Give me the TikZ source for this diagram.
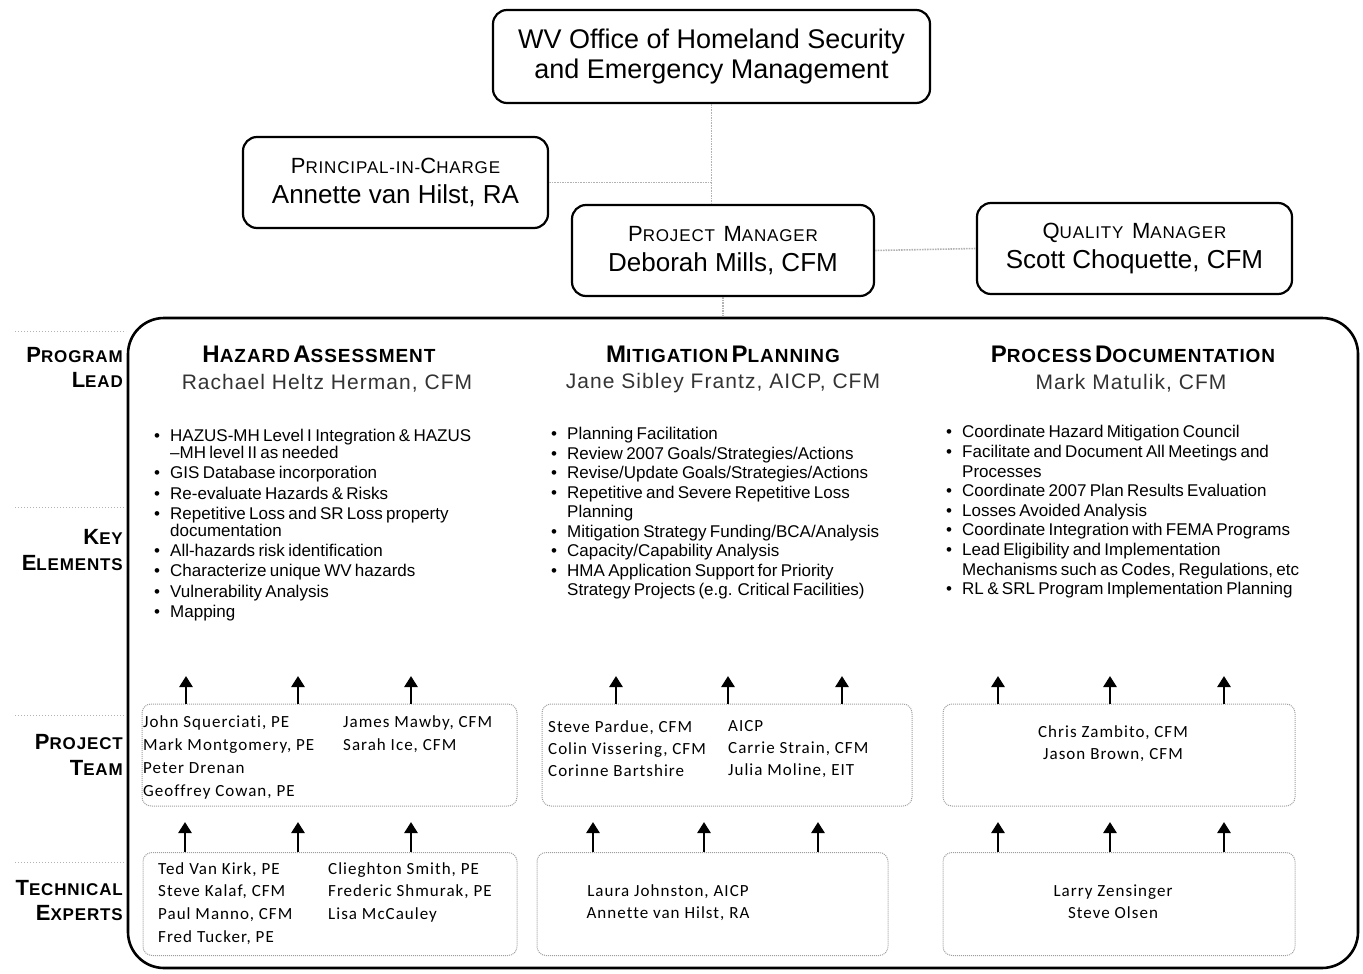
\documentclass[tikz,border=0pt]{standalone}
\usepackage{fontspec}
\setmainfont{Liberation Sans}
\newfontfamily\lsfont[LetterSpace=5]{Liberation Sans}
\newfontfamily\teamfont[LetterSpace=6,Ligatures=NoCommon]{Carlito}
\usetikzlibrary{arrows.meta}
\newcommand\fsz[1]{\fontsize{#1}{#1}\selectfont}
\newcommand\SC[4]{{\fsz{#1}#3}{\fsz{#2}#4}}
\newcommand\itm[1]{\par\hangindent=16pt\hangafter=1\noindent\makebox[16pt][l]{\textbullet}#1}
\tikzset{
 orgbox/.style={draw=black, line width=2.2pt, rounded corners=14pt, inner sep=0pt, align=center},
 bigbox/.style={draw=black, line width=2.6pt, rounded corners=36pt, inner sep=0pt},
 tbox/.style={draw=gray!75, densely dotted, line width=1pt, rounded corners=9pt, inner sep=0pt},
 conn/.style={draw=gray!60, densely dotted, line width=1.6pt},
 sepline/.style={draw=gray!60, dotted, line width=1pt},
 uparr/.style={line width=2.6pt, -{Triangle[length=11pt,width=13pt]}},
 blist/.style={inner sep=0pt, anchor=north west, text width=390pt},
 names/.style={inner sep=0pt, align=left, anchor=north west, font=\teamfont\fontsize{17}{23.3}\selectfont},
 cnames/.style={inner sep=0pt, align=center, font=\teamfont\fontsize{17}{22}\selectfont},
 lbl/.style={inner sep=0pt, anchor=east, align=right, font=\lsfont\bfseries\fontsize{22}{25.5}\selectfont},
 hdr/.style={inner sep=0pt, font=\lsfont\bfseries},
 subh/.style={inner sep=0pt, font=\lsfont\fontsize{21}{21}\selectfont, text=black!80},
}
\begin{document}
\begin{tikzpicture}[x=1pt,y=-1pt]
\useasboundingbox (0,0) rectangle (1363,974);

% organisation boxes
\node[orgbox, minimum width=437pt, minimum height=93pt, font=\fontsize{27}{30}\selectfont] (top) at (711.5,56.5)
  {WV Office of Homeland Security\\and Emergency Management};
\node[orgbox, minimum width=305pt, minimum height=91pt, font=\fontsize{26}{30}\selectfont] (pic) at (395.5,182.5)
  {{\lsfont\SC{22}{17}{P}{RINCIPAL-IN-}\SC{22}{17}{C}{HARGE}}\\Annette van Hilst, RA};
\node[orgbox, minimum width=302pt, minimum height=91pt, font=\fontsize{26}{30}\selectfont] (pm) at (723,250.5)
  {{\lsfont\SC{22}{17}{P}{ROJECT} \SC{22}{17}{M}{ANAGER}}\\Deborah Mills, CFM};
\node[orgbox, minimum width=315pt, minimum height=91pt, font=\fontsize{26}{30}\selectfont] (qm) at (1134.5,248.5)
  {{\lsfont\SC{22}{17}{Q}{UALITY} \SC{22}{17}{M}{ANAGER}}\\Scott Choquette, CFM};

% main box
\node[bigbox, minimum width=1230pt, minimum height=650pt] (main) at (743,643) {};

% connectors
\draw[conn] (top.south) -- (top.south |- pm.north);
\draw[conn] (pic.east) -- (pic.east -| top.south);
\draw[conn] (pm.east) -- (qm.west);
\draw[conn] (pm.south) -- (pm.south |- main.north);

% left row labels
\coordinate (s0) at (15,331);
\coordinate (s1) at (15,507);
\coordinate (s2) at (15,715);
\coordinate (s3) at (15,862);
\draw[sepline] (s0) -- ++(111,0);
\draw[sepline] (s1) -- ++(111,0);
\draw[sepline] (s2) -- ++(111,0);
\draw[sepline] (s3) -- ++(111,0);
\node[lbl] (lb0) at (123,367.5) {\SC{22}{17}{P}{ROGRAM}\\\SC{22}{17}{L}{EAD}};
\node[lbl] (lb1) at (123,550) {\SC{22}{17}{K}{EY}\\\SC{22}{17}{E}{LEMENTS}};
\node[lbl] (lb2) at (123,755) {\SC{22}{17}{P}{ROJECT}\\\SC{22}{17}{T}{EAM}};
\node[lbl] (lb3) at (123,900.5) {\SC{22}{17}{T}{ECHNICAL}\\\SC{22}{17}{E}{XPERTS}};

% column headers
\node[hdr] (h1) at (319,354) {\SC{24}{19}{H}{AZARD} \SC{24}{19}{A}{SSESSMENT}};
\node[subh] (n1) at (327,383) {Rachael Heltz Herman, CFM};
\node[hdr] (h2) at (723,354) {\SC{24}{19}{M}{ITIGATION} \SC{24}{19}{P}{LANNING}};
\node[subh] (n2) at (723,383) {Jane Sibley Frantz, AICP, CFM};
\node[hdr] (h3) at (1133,354) {\SC{24}{19}{P}{ROCESS} \SC{24}{19}{D}{OCUMENTATION}};
\node[subh] (n3) at (1131,383) {Mark Matulik, CFM};

% key elements
\node[blist] (k1) at (154,421) {\fontsize{17}{17.2}\selectfont\setlength\parskip{3pt}%
\itm{HAZUS-MH Level I Integration \& HAZUS\newline –MH level II as needed}
\itm{GIS Database incorporation}
\itm{Re-evaluate Hazards \& Risks}
\itm{Repetitive Loss and SR Loss property\newline documentation}
\itm{All-hazards risk identification}
\itm{Characterize unique WV hazards}
\itm{Vulnerability Analysis}
\itm{Mapping}\par};
\node[blist] (k2) at (551,420) {\fontsize{17}{19.5}\selectfont%
\itm{Planning Facilitation}
\itm{Review 2007 Goals/Strategies/Actions}
\itm{Revise/Update Goals/Strategies/Actions}
\itm{Repetitive and Severe Repetitive Loss\newline Planning}
\itm{Mitigation Strategy Funding/BCA/Analysis}
\itm{Capacity/Capability Analysis}
\itm{HMA Application Support for Priority\newline Strategy Projects (e.g. Critical Facilities)}\par};
\node[blist] (k3) at (946,418) {\fontsize{17}{19.6}\selectfont%
\itm{Coordinate Hazard Mitigation Council}
\itm{Facilitate and Document All Meetings and\newline Processes}
\itm{Coordinate 2007 Plan Results Evaluation}
\itm{Losses Avoided Analysis}
\itm{Coordinate Integration with FEMA Programs}
\itm{Lead Eligibility and Implementation\newline Mechanisms such as Codes, Regulations, etc}
\itm{RL \& SRL Program Implementation Planning}\par};

% project team boxes
\node[tbox, minimum width=375pt, minimum height=102pt] (pt1) at (329.5,755) {};
\node[tbox, minimum width=370pt, minimum height=102pt] (pt2) at (727,755) {};
\node[tbox, minimum width=352pt, minimum height=102pt] (pt3) at (1119,755) {};
% technical expert boxes
\node[tbox, minimum width=374pt, minimum height=103pt] (te1) at (330,904) {};
\node[tbox, minimum width=351pt, minimum height=103pt] (te2) at (712.5,904) {};
\node[tbox, minimum width=352pt, minimum height=103pt] (te3) at (1119,904) {};

% names
\node[names] (p1a) at (143,715) {John Squerciati, PE\\Mark Montgomery, PE\\Peter Drenan\\Geoffrey Cowan, PE};
\node[names] (p1b) at (343,715) {James Mawby, CFM\\Sarah Ice, CFM};
\node[names, font=\teamfont\fontsize{17}{22}\selectfont] (p2a) at (548,720) {Steve Pardue, CFM\\Colin Vissering, CFM\\Corinne Bartshire};
\node[names, font=\teamfont\fontsize{17}{22}\selectfont] (p2b) at (728,720) {AICP\\Carrie Strain, CFM\\Julia Moline, EIT};
\node[cnames] (p3) at (1113,744) {Chris Zambito, CFM\\Jason Brown, CFM};
\node[names, font=\teamfont\fontsize{17}{22.7}\selectfont] (t1a) at (158,862) {Ted Van Kirk, PE\\Steve Kalaf, CFM\\Paul Manno, CFM\\Fred Tucker, PE};
\node[names, font=\teamfont\fontsize{17}{22.7}\selectfont] (t1b) at (328,862) {Clieghton Smith, PE\\Frederic Shmurak, PE\\Lisa McCauley};
\node[cnames] (t2) at (668,903) {Laura Johnston, AICP\\Annette van Hilst, RA};
\node[cnames] (t3) at (1113,902) {Larry Zensinger\\Steve Olsen};

% arrows: project team -> key elements
\coordinate (a1) at (186,676);
\coordinate (a2) at (298,676);
\coordinate (a3) at (411,676);
\coordinate (a4) at (616,676);
\coordinate (a5) at (728,676);
\coordinate (a6) at (842,676);
\coordinate (a7) at (998,676);
\coordinate (a8) at (1110,676);
\coordinate (a9) at (1224,676);
\foreach \c/\b in {a1/pt1,a2/pt1,a3/pt1,a4/pt2,a5/pt2,a6/pt2,a7/pt3,a8/pt3,a9/pt3}
  \draw[uparr] (\c |- \b.north) -- (\c);
% arrows: technical experts -> project team
\coordinate (b1) at (185,822);
\coordinate (b2) at (298,822);
\coordinate (b3) at (411,822);
\coordinate (b4) at (593,822);
\coordinate (b5) at (704,822);
\coordinate (b6) at (818,822);
\coordinate (b7) at (998,822);
\coordinate (b8) at (1110,822);
\coordinate (b9) at (1224,822);
\foreach \c/\b in {b1/te1,b2/te1,b3/te1,b4/te2,b5/te2,b6/te2,b7/te3,b8/te3,b9/te3}
  \draw[uparr] (\c |- \b.north) -- (\c);
\end{tikzpicture}
\end{document}
